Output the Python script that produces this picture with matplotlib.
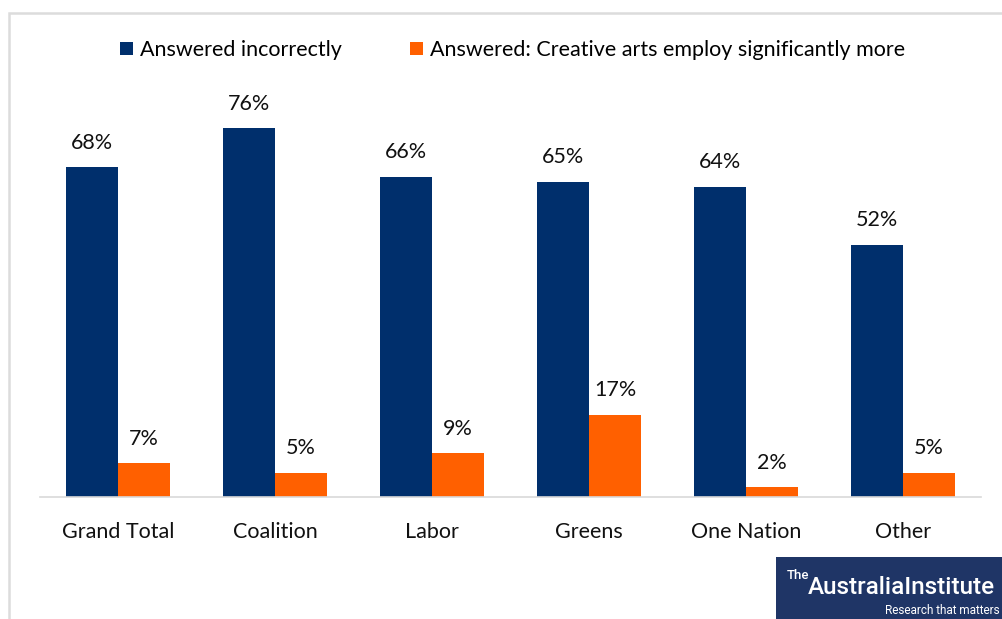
import matplotlib.pyplot as plt
from matplotlib.patches import Rectangle
import numpy as np

parties = ['Grand Total', 'Coalition', 'Labor', 'Greens', 'One Nation', 'Other']
incorrect = [68, 76, 66, 65, 64, 52]
creative_more = [7, 5, 9, 17, 2, 5]

navy = '#002f6c'
orange = '#ff6000'

plt.rcParams['font.family'] = ['Lato', 'DejaVu Sans']

fig = plt.figure(figsize=(10.03, 6.19), dpi=100)
ax = fig.add_axes([0.0394, 0.197, 0.939, 0.627])

x = np.arange(len(parties))
w = 0.333
b1 = ax.bar(x - w / 2, incorrect, w, color=navy, label='Answered incorrectly')
b2 = ax.bar(x + w / 2, creative_more, w, color=orange,
            label='Answered: Creative arts employ significantly more')

for bars, vals in [(b1, incorrect), (b2, creative_more)]:
    for r, v in zip(bars, vals):
        ax.text(r.get_x() + r.get_width() / 2, v + 3.0, f'{v}%',
                ha='center', va='bottom', fontsize=15.5, color='#111111')

ax.set_xlim(-0.5, len(parties) - 0.5)
ax.set_ylim(0, 80)
ax.set_xticks(x)
ax.set_xticklabels(parties, fontsize=15.5, color='#111111')
ax.tick_params(axis='x', length=0, pad=18)
ax.set_yticks([])
for s in ['top', 'right', 'left']:
    ax.spines[s].set_visible(False)
ax.spines['bottom'].set_color('#d9d9d9')
ax.spines['bottom'].set_linewidth(1.2)

fig.legend(loc='center', bbox_to_anchor=(0.511, 0.919), ncol=2, frameon=False,
           fontsize=15.5, handlelength=0.6, handleheight=0.6,
           handletextpad=0.3, columnspacing=3.2, borderaxespad=0)

# outer frame
fig.add_artist(Rectangle((9 / 1003, -0.05), 1.1, 1 - 13 / 619 + 0.05,
                         transform=fig.transFigure, fill=False,
                         edgecolor='#dcdcdc', linewidth=1.8))

# logo box
fig.add_artist(Rectangle((776 / 1003, 0), 1, 62 / 619, transform=fig.transFigure,
                         facecolor='#1f3566', edgecolor='none'))
fig.text(787 / 1003, 37 / 619, 'The', color='white', fontsize=9.5,
         fontfamily='Roboto', fontweight='medium', va='bottom', ha='left')
fig.text(808 / 1003, 20 / 619, 'AustraliaInstitute', color='white', fontsize=17.5,
         fontfamily='Roboto', fontweight='medium', va='bottom', ha='left')
fig.text(1000 / 1003, 2 / 619, 'Research that matters', color='white', fontsize=8.5,
         fontfamily='Roboto', va='bottom', ha='right')

fig.savefig('out.png', dpi=100)
